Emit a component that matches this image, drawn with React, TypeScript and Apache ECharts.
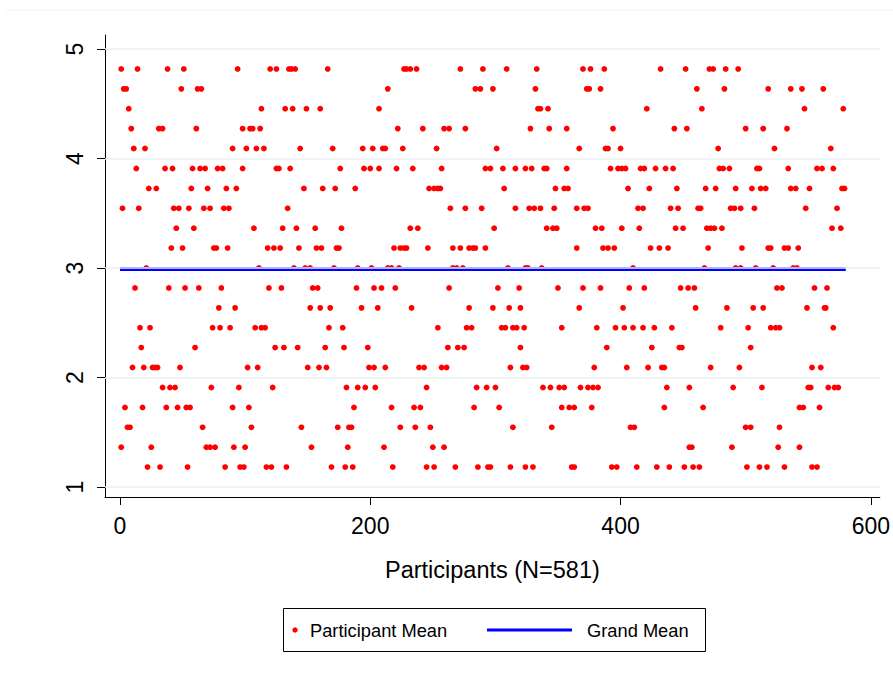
import React, { useEffect, useRef } from "react";
import * as echarts from "echarts";

// Possible participant-mean levels (y values)
const levels = [4.818, 4.636, 4.455, 4.273, 4.091, 3.909, 3.727, 3.545, 3.364, 3.182, 3.0, 2.818, 2.636, 2.455, 2.273, 2.091, 1.909, 1.727, 1.545, 1.364, 1.182];

// Participant numbers (x) found at each level
const at482 = [1, 14, 38, 51, 94, 120, 125, 135, 137, 140, 166, 227, 229, 232, 237, 272, 290, 309, 333, 370, 376, 387, 432, 452, 471, 474, 484, 494];
const at464 = [3, 5, 49, 62, 65, 214, 284, 288, 298, 332, 373, 375, 384, 461, 483, 518, 536, 545, 562];
const at445 = [7, 113, 132, 138, 149, 160, 207, 334, 336, 342, 421, 465, 547, 578];
const at427 = [9, 31, 34, 61, 98, 104, 106, 112, 222, 242, 259, 263, 276, 328, 343, 357, 394, 443, 453, 500, 514, 533];
const at409 = [11, 20, 90, 101, 109, 115, 144, 170, 194, 202, 210, 212, 226, 253, 301, 367, 388, 390, 400, 478, 523, 568];
const at391 = [13, 36, 42, 58, 64, 68, 78, 82, 98, 125, 127, 136, 176, 195, 200, 207, 221, 234, 257, 292, 296, 306, 316, 324, 329, 339, 341, 357, 392, 398, 401, 404, 416, 419, 428, 436, 442, 479, 482, 487, 509, 511, 534, 557, 561, 570];
const at373 = [23, 29, 57, 70, 85, 93, 147, 162, 172, 188, 247, 251, 254, 256, 307, 348, 355, 358, 406, 423, 445, 468, 476, 492, 505, 512, 516, 536, 540, 551, 577, 579];
const at355 = [2, 15, 43, 47, 55, 67, 72, 83, 87, 134, 264, 276, 289, 316, 327, 331, 336, 347, 365, 371, 374, 414, 418, 440, 446, 462, 464, 488, 491, 496, 507, 548, 573];
const at336 = [45, 59, 107, 130, 141, 156, 177, 232, 238, 299, 341, 346, 349, 380, 385, 401, 415, 444, 450, 469, 472, 475, 481, 569, 576];
const at318 = [41, 50, 75, 77, 86, 118, 123, 128, 143, 157, 161, 173, 175, 219, 224, 227, 229, 246, 266, 272, 279, 282, 284, 292, 365, 386, 390, 395, 424, 431, 438, 470, 497, 518, 520, 531, 534, 542];
const at300 = [21, 111, 139, 148, 152, 171, 190, 201, 214, 217, 223, 266, 269, 274, 310, 324, 326, 337, 410, 467, 492, 496, 508, 522, 538, 541];
const at282 = [12, 39, 52, 63, 81, 119, 129, 154, 158, 189, 203, 209, 220, 263, 302, 319, 350, 370, 384, 407, 419, 448, 454, 459, 525, 529, 555, 565];
const at264 = [79, 92, 152, 160, 168, 193, 206, 233, 279, 298, 311, 320, 367, 402, 460, 485, 506, 514, 549, 563, 564];
const at245 = [16, 24, 74, 80, 88, 108, 113, 116, 167, 178, 254, 277, 281, 305, 308, 314, 317, 323, 353, 381, 396, 403, 410, 418, 427, 441, 480, 502, 520, 524, 527, 570];
const at227 = [17, 60, 124, 131, 142, 164, 179, 198, 262, 270, 275, 320, 389, 425, 447, 449, 504];
const at209 = [10, 19, 26, 28, 30, 48, 102, 110, 150, 159, 165, 199, 203, 212, 239, 243, 257, 261, 312, 322, 325, 379, 405, 422, 433, 435, 472, 495, 553, 560];
const at191 = [34, 40, 44, 73, 95, 122, 181, 190, 196, 204, 245, 285, 293, 300, 338, 344, 351, 355, 368, 374, 378, 382, 437, 455, 490, 513, 550, 552, 566, 571, 574];
const at173 = [4, 18, 37, 46, 53, 56, 90, 103, 187, 217, 235, 240, 283, 303, 353, 359, 363, 377, 435, 466, 543, 546, 559];
const at155 = [6, 8, 66, 105, 145, 174, 183, 185, 224, 236, 248, 314, 345, 408, 411, 500, 504, 527];
const at136 = [1, 25, 69, 72, 76, 91, 100, 153, 182, 211, 250, 259, 455, 457, 489, 526, 543];
const at118 = [22, 32, 54, 84, 96, 99, 117, 121, 133, 169, 180, 186, 218, 245, 251, 268, 286, 294, 296, 312, 324, 330, 361, 363, 393, 397, 413, 429, 439, 451, 458, 463, 501, 511, 517, 531, 553, 557];

const idsByLevel = [at482, at464, at445, at427, at409, at391, at373, at355, at336, at318, at300, at282, at264, at245, at227, at209, at191, at173, at155, at136, at118];

const grandMean = 2.99;
const grandMeanSpan = [0, 580];

const xTicks = [0, 200, 400, 600];
const yTicks = [1, 2, 3, 4, 5];

const FONT = "'Liberation Sans', Arial, Helvetica, sans-serif";

export default function App() {
  const ref = useRef<HTMLDivElement>(null);

  useEffect(() => {
    if (!ref.current) return;
    const chart = echarts.init(ref.current, undefined, { renderer: "svg" });

    const points: number[][] = [];
    idsByLevel.forEach((ids, i) => {
      ids.forEach((id) => points.push([id, levels[i]]));
    });

    chart.setOption({
      animation: false,
      backgroundColor: "#ffffff",
      grid: { left: 105, right: 13, top: 35, bottom: 181, containLabel: false },
      xAxis: {
        type: "value",
        min: -11.98,
        max: 607.2,
        axisLine: { show: true, onZero: false, lineStyle: { color: "#000", width: 1 } },
        axisTick: { show: true, length: 8, customValues: xTicks, lineStyle: { color: "#000", width: 1 } },
        axisLabel: { show: true, customValues: xTicks, margin: 17, fontSize: 23, color: "#000", fontFamily: FONT },
        splitLine: { show: false },
        name: "Participants (N=581)",
        nameLocation: "middle",
        nameGap: 61,
        nameTextStyle: { fontSize: 23.5, color: "#000", fontFamily: FONT },
      },
      yAxis: {
        type: "value",
        min: 0.9087,
        max: 5.128,
        axisLine: { show: true, onZero: false, lineStyle: { color: "#000", width: 1 } },
        axisTick: { show: true, length: 8, customValues: yTicks, lineStyle: { color: "#000", width: 1 } },
        axisLabel: { show: true, customValues: yTicks, rotate: 90, margin: 19, fontSize: 23, color: "#000", fontFamily: FONT },
        splitLine: { show: false },
      },
      series: [
        {
          type: "line",
          data: [],
          silent: true,
          z: 0,
          markLine: {
            silent: true,
            symbol: "none",
            label: { show: false },
            lineStyle: { color: "#EAF2F3", width: 1.5, type: "solid" },
            data: yTicks.map((v) => ({ yAxis: v })),
          },
        },
        {
          name: "Participant Mean",
          type: "scatter",
          data: points,
          symbol: "circle",
          symbolSize: 5.8,
          itemStyle: { color: "#ff0000", opacity: 1 },
          z: 2,
        },
        {
          name: "Grand Mean",
          type: "line",
          data: grandMeanSpan.map((x) => [x, grandMean]),
          symbol: "none",
          lineStyle: { color: "#0000ff", width: 4 },
          z: 3,
        },
      ],
      graphic: [
        { type: "line", shape: { x1: 6, y1: 10, x2: 893, y2: 10 }, style: { stroke: "#EAF2F3", lineWidth: 1 } },
        { type: "rect", shape: { x: 283.5, y: 608.5, width: 422, height: 43 }, style: { fill: "#fff", stroke: "#000", lineWidth: 1 } },
        { type: "circle", shape: { cx: 295, cy: 630, r: 2.7 }, style: { fill: "#ff0000" } },
        { type: "text", x: 310, y: 630, style: { text: "Participant Mean", fontSize: 18.3, fill: "#000", fontFamily: FONT, verticalAlign: "middle", align: "left" } },
        { type: "line", shape: { x1: 487, y1: 630, x2: 572, y2: 630 }, style: { stroke: "#0000ff", lineWidth: 3 } },
        { type: "text", x: 587, y: 630, style: { text: "Grand Mean", fontSize: 18.3, fill: "#000", fontFamily: FONT, verticalAlign: "middle", align: "left" } },
      ],
    });

    return () => chart.dispose();
  }, []);

  return <div ref={ref} style={{ position: "absolute", left: 0, top: 0, width: 893, height: 678 }} />;
}
